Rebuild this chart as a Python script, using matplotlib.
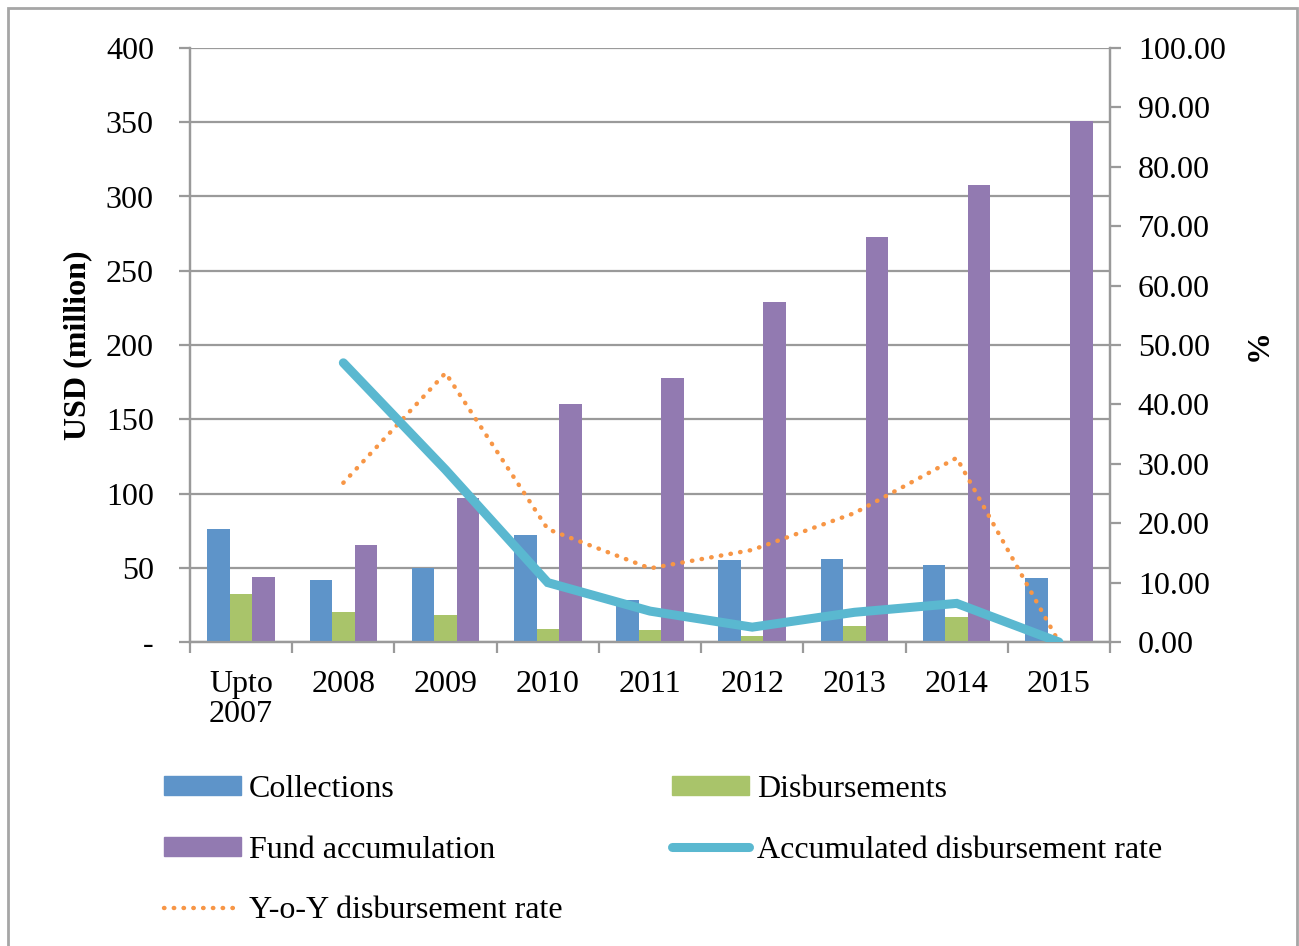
import matplotlib
matplotlib.use("Agg")
import matplotlib.pyplot as plt
from matplotlib.patches import Rectangle
from matplotlib.lines import Line2D
import numpy as np

plt.rcParams['font.family'] = ['Liberation Serif', 'DejaVu Serif']

# Data (USD million and %)
years = ["Upto\n2007", "2008", "2009", "2010", "2011", "2012", "2013", "2014", "2015"]
collections = [76, 42, 50, 72, 28, 55, 56, 52, 43]
disbursements = [32, 20, 18, 9, 8, 4, 11, 17, 0]
fund_accum = [44, 65, 97, 160, 178, 229, 273, 308, 351]
acc_rate_years = ["2008", "2009", "2010", "2011", "2012", "2013", "2014", "2015"]
acc_rate = [47, 29, 10, 5.2, 2.5, 5.0, 6.5, 0]
yoy_rate = [26.8, 45.3, 19.0, 12.4, 15.5, 21.7, 31.0, 0]

c_blue = '#5E94C9'
c_green = '#A9C46A'
c_purple = '#927AB1'
c_teal = '#5AB8D0'
c_orange = '#F79646'
c_grid = '#9A9A9A'
fs = 23
dotted = (0, (0.1, 2.1))

W, H = 1299, 946
fig = plt.figure(figsize=(W / 100, H / 100), dpi=100)
ax = fig.add_axes([190 / W, 1 - 642 / H, 920 / W, 594 / H])
ax2 = ax.twinx()

x = np.arange(len(years))
bw = 0.22
ax.bar(x - bw, collections, bw, color=c_blue, zorder=3, label='Collections')
ax.bar(x, disbursements, bw, color=c_green, zorder=3, label='Disbursements')
ax.bar(x + bw, fund_accum, bw, color=c_purple, zorder=3, label='Fund accumulation')

ax.set_xlim(-0.5, len(years) - 0.5)
ax.set_ylim(0, 400)
ax.set_yticks(range(0, 401, 50))
ax.set_yticklabels(['-'] + [str(v) for v in range(50, 401, 50)])
ax.yaxis.grid(True, color=c_grid, lw=1.6, zorder=0)
ax.set_axisbelow(True)

ax.set_xticks(x)
ax.set_xticklabels(years, linespacing=1.05)
ax.set_xticks(np.arange(-0.5, len(years)), minor=True)
ax.tick_params(axis='x', which='major', length=0, pad=20, labelsize=fs)
ax.tick_params(axis='x', which='minor', length=8, width=1.6, color=c_grid)
ax.tick_params(axis='y', length=8, width=1.6, color=c_grid, labelsize=fs, pad=18)
ax.set_ylabel('USD (million)', fontsize=fs, fontweight='bold', labelpad=10)

# rate lines on the right axis
xi = [years.index(y) for y in acc_rate_years]
ax2.plot(xi, yoy_rate, color=c_orange, ls=dotted, lw=3.2,
         dash_capstyle='round', zorder=4)
ax2.plot(xi, acc_rate, color=c_teal, lw=6.5, solid_capstyle='round',
         solid_joinstyle='miter', zorder=5)
ax2.set_ylim(0, 100)
ax2.set_yticks(range(0, 101, 10))
ax2.set_yticklabels([f"{v:.2f}" for v in range(0, 101, 10)])
ax2.tick_params(axis='y', length=8, width=1.6, color=c_grid, labelsize=fs, pad=12)
ax2.set_ylabel('%', fontsize=fs, fontweight='bold', labelpad=14)

for a in (ax, ax2):
    a.spines['top'].set_visible(False)
    for side in ('left', 'right', 'bottom'):
        a.spines[side].set_color(c_grid)
        a.spines[side].set_linewidth(1.6)

# legend below the plot, filled row by row
handles = [
    Rectangle((0, 0), 1, 1, color=c_blue),
    Rectangle((0, 0), 1, 1, color=c_purple),
    Line2D([], [], color=c_orange, ls=dotted, lw=3.2, dash_capstyle='round'),
    Rectangle((0, 0), 1, 1, color=c_green),
    Line2D([], [], color=c_teal, lw=6.5, solid_capstyle='round'),
]
labels = ['Collections', 'Fund accumulation', 'Y-o-Y disbursement rate',
          'Disbursements', 'Accumulated disbursement rate']
fig.legend(handles, labels, loc='upper left', bbox_to_anchor=(164 / W, 1 - 775 / H),
           ncol=2, frameon=False, fontsize=fs, handlelength=2.4, handleheight=0.55,
           handletextpad=0.25, labelspacing=0.99, columnspacing=3.45,
           borderpad=0, borderaxespad=0)

# outer frame
fig.patches.append(Rectangle((8 / W, -0.01), 1289 / W, 1 - 8 / H + 0.01,
                             transform=fig.transFigure, fill=False,
                             edgecolor='#A6A6A6', lw=2))

fig.savefig('out.png', dpi=100)
